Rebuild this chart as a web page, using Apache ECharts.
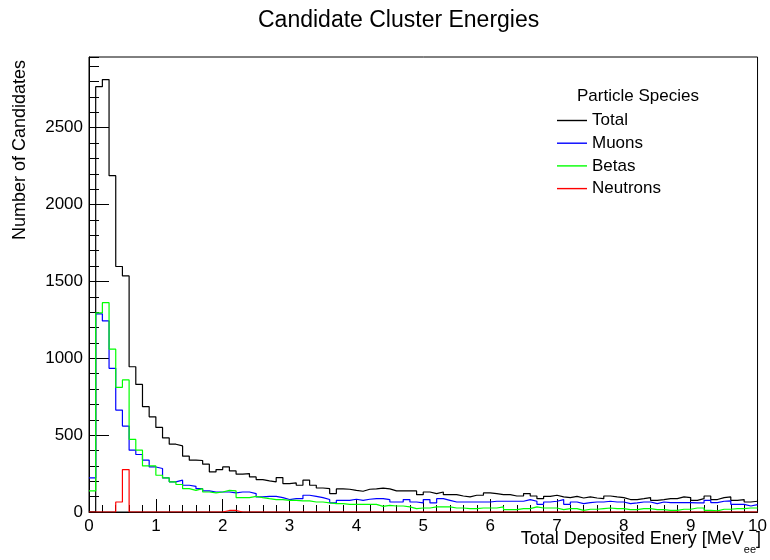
<!DOCTYPE html>
<html>
<head>
<meta charset="utf-8">
<script src="https://cdn.jsdelivr.net/npm/echarts@6/dist/echarts.min.js"></script>
<style>
html,body{margin:0;padding:0;background:#fff;}
#chart{width:770px;height:560px;}
</style>
</head>
<body>
<div id="chart"></div>
<script>
// Histogram bin settings (100 bins from 0 to 10 MeVee)
var binWidth = 0.1;
var xTickLabels = ['0','1','2','3','4','5','6','7','8','9','10'];
var yTickLabels = ['0','500','1000','1500','2000','2500'];

var seriesNames = ['Total', 'Muons', 'Betas', 'Neutrons'];

var total = [0, 2767, 2813, 2188, 1597, 1536, 945, 830, 685, 619,
  550, 482, 441, 430, 363, 337, 335, 311, 261, 276,
  293, 267, 246, 250, 228, 211, 202, 196, 224, 185,
  189, 174, 207, 174, 156, 152, 120, 150, 148, 141,
  135, 148, 150, 155, 150, 137, 137, 137, 137, 113,
  130, 120, 130, 113, 113, 104, 98, 109, 109, 124,
  120, 113, 113, 104, 104, 120, 104, 87, 102, 109,
  98, 94, 102, 91, 98, 91, 87, 104, 98, 94,
  81, 81, 87, 94, 76, 81, 87, 87, 98, 94,
  76, 87, 104, 81, 94, 98, 76, 81, 65, 70];

var muons = [222, 1289, 1243, 935, 663, 559, 402, 374, 337, 293,
  283, 222, 196, 207, 174, 167, 152, 137, 130, 130,
  130, 124, 130, 130, 120, 98, 102, 102, 94, 81,
  87, 87, 109, 102, 94, 81, 59, 76, 76, 83,
  76, 83, 87, 87, 80, 65, 65, 81, 65, 59,
  81, 59, 87, 76, 65, 65, 65, 65, 65, 65,
  70, 70, 70, 70, 70, 81, 70, 50, 65, 70,
  81, 50, 65, 55, 61, 65, 65, 70, 65, 65,
  55, 59, 65, 65, 55, 65, 61, 61, 61, 61,
  59, 59, 76, 61, 70, 72, 50, 50, 39, 48];

var betas = [137, 1295, 1362, 1059, 811, 859, 472, 402, 300, 300,
  239, 222, 196, 179, 152, 141, 152, 130, 124, 130,
  141, 137, 94, 94, 102, 94, 87, 81, 81, 76,
  76, 72, 72, 65, 65, 59, 55, 55, 50, 50,
  50, 50, 50, 37, 43, 39, 39, 33, 22, 26,
  26, 33, 33, 33, 26, 26, 22, 22, 26, 26,
  26, 33, 15, 15, 22, 22, 33, 26, 26, 26,
  15, 22, 22, 11, 18, 18, 22, 26, 22, 22,
  15, 15, 22, 22, 15, 15, 11, 11, 18, 18,
  26, 26, 11, 7, 18, 18, 22, 22, 26, 26];

var neutrons = [0, 0, 0, 0, 65, 276, 0, 0, 0, 0,
  0, 0, 0, 0, 0, 0, 0, 0, 0, 0,
  10, 10, 0, 0, 0, 0, 0, 0, 0, 0,
  0, 0, 0, 0, 0, 0, 0, 0, 0, 0,
  0, 0, 0, 0, 0, 0, 0, 0, 0, 0,
  0, 0, 0, 0, 0, 0, 0, 0, 0, 0,
  0, 0, 0, 0, 0, 0, 0, 0, 0, 0,
  0, 0, 0, 0, 0, 0, 0, 0, 0, 0,
  0, 0, 0, 0, 0, 0, 0, 0, 0, 0,
  0, 0, 0, 0, 0, 0, 0, 0, 0, 0];

var colors = ['#000000', '#0000ff', '#00ff00', '#ff0000'];

function toSteps(values) {
  var pts = values.map(function (v, i) { return [+(i * binWidth).toFixed(4), v]; });
  pts.push([+(values.length * binWidth).toFixed(4), values[values.length - 1]]);
  return pts;
}

var FONT = 'Liberation Sans, Arial, Helvetica, sans-serif';
var yMax = 2960;

var chart = echarts.init(document.getElementById('chart'), null, {renderer: 'canvas'});

var allData = [total, muons, betas, neutrons];
var series = allData.map(function (vals, k) {
  return {
    name: seriesNames[k],
    type: 'line',
    step: 'end',
    data: toSteps(vals),
    symbol: 'none',
    showSymbol: false,
    animation: false,
    lineStyle: {color: colors[k], width: 1.2},
    itemStyle: {color: colors[k]},
    z: 3 + k
  };
});

var option = {
  animation: false,
  backgroundColor: '#ffffff',
  title: [{
    text: 'Candidate Cluster Energies',
    left: 253, top: 4,
    textStyle: {fontFamily: FONT, fontSize: 23, fontWeight: 'normal', color: '#000'}
  }, {
    text: 'Particle Species',
    left: 572, top: 83,
    textStyle: {fontFamily: FONT, fontSize: 17, fontWeight: 'normal', color: '#000'}
  }],
  legend: {
    orient: 'vertical',
    left: 552, top: 107,
    icon: 'rect',
    itemWidth: 30, itemHeight: 1.4, itemGap: 5.7,
    data: seriesNames,
    textStyle: {fontFamily: FONT, fontSize: 17, color: '#000', lineHeight: 16}
  },
  grid: {
    left: 89, right: 8, top: 57, bottom: 48,
    show: true, borderColor: '#000', borderWidth: 1, backgroundColor: 'transparent'
  },
  xAxis: {
    type: 'value', min: 0, max: 10, interval: 1,
    axisLine: {lineStyle: {color: '#000', width: 1}},
    axisTick: {inside: true, length: 13, lineStyle: {color: '#000'}},
    minorTick: {show: true, splitNumber: 5, length: 7, lineStyle: {color: '#000'}},
    splitLine: {show: false},
    axisLabel: {
      margin: 6, fontFamily: FONT, fontSize: 17, color: '#000',
      formatter: function (v) { return xTickLabels[Math.round(v)]; }
    }
  },
  yAxis: [{
    type: 'value', min: 0, max: yMax, interval: 500,
    axisLine: {lineStyle: {color: '#000', width: 1}},
    axisTick: {inside: true, length: 20, lineStyle: {color: '#000'}},
    splitLine: {show: false},
    axisLabel: {
      margin: 6, fontFamily: FONT, fontSize: 17, color: '#000', showMaxLabel: false,
      formatter: function (v) { var i = Math.round(v / 500); return (v % 500 === 0 && yTickLabels[i]) ? yTickLabels[i] : ''; }
    }
  }, {
    type: 'value', min: 0, max: yMax, interval: 100, position: 'left', offset: 0,
    axisLine: {show: false},
    axisTick: {inside: true, length: 10, lineStyle: {color: '#000'}},
    splitLine: {show: false},
    axisLabel: {show: false}
  }],
  graphic: [{
    type: 'text',
    x: 20, y: 60,
    rotation: Math.PI / 2,
    style: {
      text: 'Number of Candidates',
      fontFamily: FONT, fontSize: 18, fill: '#000',
      align: 'right', verticalAlign: 'middle'
    }
  }, {
    type: 'text',
    x: 761, y: 524,
    style: {
      text: 'Total Deposited Enery [MeV{s|ee}]',
      fontFamily: FONT, fontSize: 18, fill: '#000',
      align: 'right', verticalAlign: 'top',
      rich: {
        s: {fontFamily: FONT, fontSize: 11, fill: '#000', verticalAlign: 'bottom', padding: [20, 0, 0, 0]}
      }
    }
  }],
  series: series
};

chart.setOption(option);
</script>
</body>
</html>
